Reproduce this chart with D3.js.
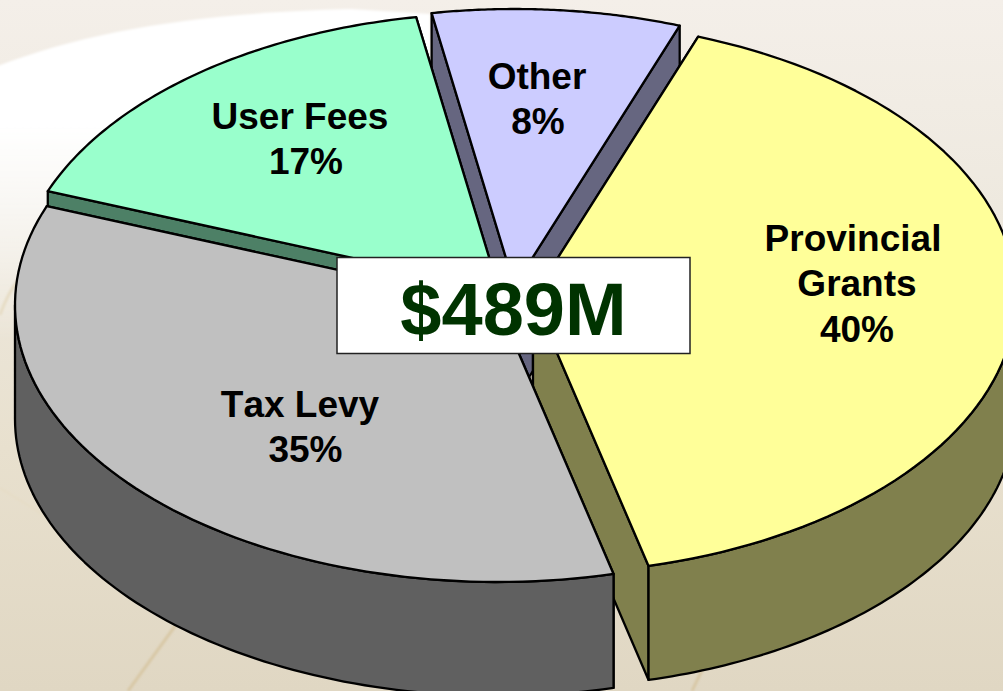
<!DOCTYPE html>
<html><head><meta charset="utf-8">
<script src="https://cdn.jsdelivr.net/npm/d3@7"></script>
<style>html,body{margin:0;padding:0;overflow:hidden;background:#eee}svg{display:block}text{font-family:"Liberation Sans",Arial,sans-serif;font-weight:bold;font-kerning:none}</style>
</head><body><svg id="c" width="1003" height="691"></svg>
<script>
const categories = ["Provincial Grants","Tax Levy","User Fees","Other"];
const shares = [40.6,34.65,16.45,8.3];
const labelLines = [["Provincial","Grants","40%"],["Tax Levy","35%"],["User Fees","17%"],["Other","8%"]];
const topColors = ["#FFFF99","#C0C0C0","#99FFCC","#CCCCFF"];
const sideColors = ["#80804D","#606060","#4D8066","#666680"];
const totalLabel = "$489M";

const W=1003,H=691,RX=483,RY=277,DEPTH=114,START=20*Math.PI/180;
const centers=[[533,297],[498,305],[499,290],[514.5,286]];
const labelX=[[853,857,857],[300,305.5],[300,306],[537,538]];
const labelY=[250.5,416.5,128.5,88.5];
const LH=45.7;

const svg=d3.select("#c");
const defs=svg.append("defs");
const bg=defs.append("linearGradient").attr("id","bg").attr("x1",0).attr("y1",0).attr("x2",0).attr("y2",1);
[[0,"#F4EFE9"],[.3,"#EEE9DF"],[.65,"#E8E0CE"],[1,"#E0D7C3"]].forEach(s=>bg.append("stop").attr("offset",s[0]).attr("stop-color",s[1]));
const wh=defs.append("linearGradient").attr("id","wh").attr("x1",0).attr("y1",0).attr("x2",0).attr("y2",1);
[[0,1],[.35,1],[1,0]].forEach(s=>wh.append("stop").attr("offset",s[0]).attr("stop-color","#fff").attr("stop-opacity",s[1]));
const f=defs.append("filter").attr("id","soft");f.append("feGaussianBlur").attr("stdDeviation",1);

svg.append("rect").attr("width",W).attr("height",H).attr("fill","url(#bg)");
svg.append("path").attr("d","M-5,67 C90,30 200,13 350,9 L430,14 L430,340 L-5,340Z").attr("fill","url(#wh)").attr("filter","url(#soft)");
const deco=[["M0,315 Q8,292 20,278","#E6DCC4",3],["M0,488 L55,522","#E6DCC6",2],["M178,622 L128,691","#D8C8A6",3],["M703,668 L692,691","#D8C8A6",3]];
svg.selectAll("path.deco").data(deco).join("path").attr("class","deco").attr("d",d=>d[0]).attr("fill","none").attr("stroke",d=>d[1]).attr("stroke-width",d=>d[2]).attr("filter","url(#soft)");

const arcs=d3.pie().sort(null).startAngle(START).endAngle(START+2*Math.PI)(shares);
const line=d3.line();
function rim(i,t,dy=0){const c=centers[i];return [c[0]+RX*Math.sin(t),c[1]-RY*Math.cos(t)+dy];}
function rimPts(i,a,b,dy=0){const n=80;return d3.range(n+1).map(k=>rim(i,a+(b-a)*k/n,dy));}

const order=[3,2,0,1];
const g=svg.append("g").attr("stroke","#000").attr("stroke-width",2.3).attr("stroke-linejoin","round");
order.forEach(i=>{
  const d=arcs[i],c=centers[i],a=d.startAngle,b=d.endAngle;
  const side=g.append("g").attr("fill",sideColors[i]);
  [a,b].forEach(t=>side.append("path").attr("d",line([c,rim(i,t),rim(i,t,DEPTH),[c[0],c[1]+DEPTH]])+"Z"));
  const fa=Math.max(a,Math.PI/2),fb=Math.min(b,3*Math.PI/2);
  if(fb>fa) side.append("path").attr("d",line(rimPts(i,fa,fb).concat(rimPts(i,fb,fa,DEPTH)))+"Z");
  g.append("path").attr("fill",topColors[i]).attr("d",line([c].concat(rimPts(i,a,b)))+"Z");
});

labelLines.forEach((ls,i)=>{
  const t=svg.append("text").attr("text-anchor","middle").attr("font-size",37).attr("fill","#000");
  ls.forEach((s,k)=>t.append("tspan").attr("x",labelX[i][k]).attr("y",labelY[i]+k*LH).text(s));
});
svg.append("rect").attr("x",337).attr("y",257.5).attr("width",353).attr("height",96).attr("fill","#fff").attr("stroke","#222").attr("stroke-width",1.5);
svg.append("text").attr("x",513.5).attr("y",335).attr("text-anchor","middle").attr("font-size",74).attr("fill","#003300").text(totalLabel);
</script></body></html>
